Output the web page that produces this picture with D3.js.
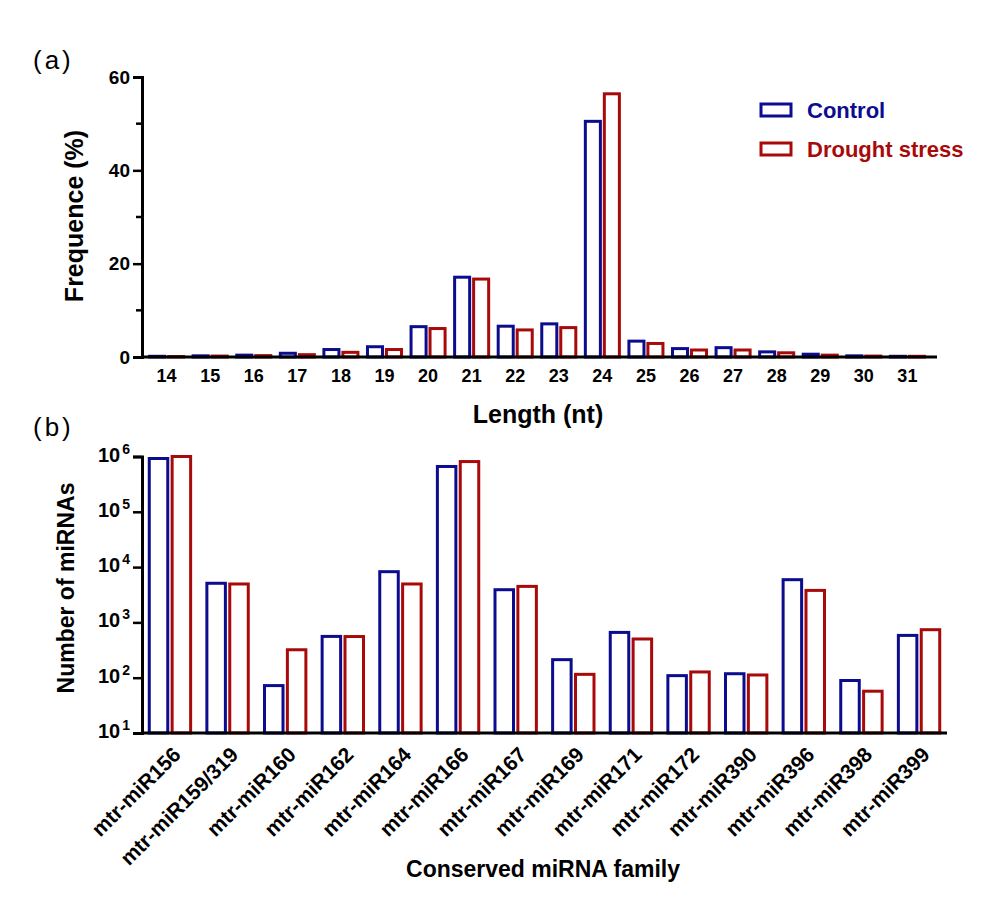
<!DOCTYPE html>
<html>
<head>
<meta charset="utf-8">
<script src="https://cdn.jsdelivr.net/npm/d3@7"></script>
<style>
  body { margin: 0; background: #fff; }
  svg text { font-family: "Liberation Sans", Arial, sans-serif; }
</style>
</head>
<body>
<div id="chart"></div>
<script>
// panel (a): length distribution
const lengths = [14, 15, 16, 17, 18, 19, 20, 21, 22, 23, 24, 25, 26, 27, 28, 29, 30, 31];
const lenControl = [0.15, 0.25, 0.4, 0.8, 1.6, 2.2, 6.5, 17.1, 6.6, 7.1, 50.5, 3.4, 1.8, 2.0, 1.1, 0.6, 0.25, 0.15];
const lenDrought = [0.1, 0.2, 0.3, 0.5, 1.0, 1.6, 6.1, 16.7, 5.8, 6.3, 56.4, 2.9, 1.5, 1.5, 0.9, 0.4, 0.2, 0.15];
const freqTicks = [0, 20, 40, 60];
const freqMinor = [10, 30, 50];

// panel (b): conserved miRNA families
const families = ["mtr-miR156", "mtr-miR159/319", "mtr-miR160", "mtr-miR162", "mtr-miR164", "mtr-miR166",
  "mtr-miR167", "mtr-miR169", "mtr-miR171", "mtr-miR172", "mtr-miR390", "mtr-miR396", "mtr-miR398", "mtr-miR399"];
const famControl = [920000, 5100, 72, 558, 8260, 660000, 3900, 212, 659, 109, 118, 5920, 89, 582];
const famDrought = [1000000, 4950, 320, 555, 4950, 810000, 4480, 115, 501, 127, 112, 3790, 57, 738];
const countTicks = [1, 2, 3, 4, 5, 6]; // exponents of 10

const seriesNames = ["Control", "Drought stress"];
const colors = ["#0c0c8e", "#a80a0a"];

const width = 1000, height = 917;
const svg = d3.select("#chart").append("svg")
  .attr("width", width).attr("height", height);

// ---------- panel (a) ----------
const xa = d3.scaleBand().domain(lengths).range([142, 932]).paddingInner(0.15).paddingOuter(0.14);
const xaIn = d3.scaleBand().domain([0, 1]).range([0, xa.bandwidth()]).paddingInner(0.05);
const ya = d3.scaleLinear().domain([0, 60]).range([357, 77]);

const ga = svg.append("g");
lengths.forEach((len, i) => {
  [lenControl[i], lenDrought[i]].forEach((v, s) => {
    ga.append("rect")
      .attr("x", xa(len) + xaIn(s) + 1.5)
      .attr("y", ya(v))
      .attr("width", xaIn.bandwidth() - 3)
      .attr("height", ya(0) - ya(v))
      .attr("fill", "white")
      .attr("stroke", colors[s])
      .attr("stroke-width", 3);
  });
});

// y axis (a)
const yAxisA = ga.append("g").attr("transform", "translate(142,0)")
  .call(d3.axisLeft(ya).tickValues(freqTicks).tickSize(9).tickPadding(3));
yAxisA.select(".domain").attr("stroke-width", 3);
yAxisA.selectAll(".tick line").attr("stroke-width", 2.5);
yAxisA.selectAll("text").attr("font-size", 19).attr("font-weight", "bold");
ga.selectAll(".minor").data(freqMinor).enter().append("line")
  .attr("x1", 142).attr("x2", 136)
  .attr("y1", d => ya(d)).attr("y2", d => ya(d))
  .attr("stroke", "black").attr("stroke-width", 2.5);

// x axis (a)
const xAxisA = ga.append("g").attr("transform", "translate(0,357)")
  .call(d3.axisBottom(xa).tickSize(0).tickPadding(12));
xAxisA.select(".domain").remove();
xAxisA.selectAll("text").attr("font-size", 18).attr("font-weight", "bold");
ga.append("line").attr("x1", 141).attr("x2", 937).attr("y1", 357).attr("y2", 357)
  .attr("stroke", "black").attr("stroke-width", 3);

ga.append("text").attr("x", 538).attr("y", 423)
  .attr("text-anchor", "middle").attr("font-size", 25).attr("font-weight", "bold")
  .text("Length (nt)");
ga.append("text").attr("transform", "translate(83,216) rotate(-90)")
  .attr("text-anchor", "middle").attr("font-size", 25).attr("font-weight", "bold")
  .text("Frequence (%)");
ga.append("text").attr("x", 33).attr("y", 69).attr("font-size", 26)
  .attr("letter-spacing", 3).text("(a)");

// legend
seriesNames.forEach((name, s) => {
  const ly = 110 + s * 39;
  ga.append("rect").attr("x", 761).attr("y", ly - 6).attr("width", 30).attr("height", 12)
    .attr("fill", "white").attr("stroke", colors[s]).attr("stroke-width", 3);
  ga.append("text").attr("x", 807).attr("y", ly + 8)
    .attr("font-size", 22).attr("font-weight", "bold").attr("fill", colors[s])
    .text(name);
});

// ---------- panel (b) ----------
const xb = d3.scaleBand().domain(families).range([142, 947]).paddingInner(0.23).paddingOuter(0.1);
const xbIn = d3.scaleBand().domain([0, 1]).range([0, xb.bandwidth()]).paddingInner(0.06);
const yb = d3.scaleLog().domain([10, 1e6]).range([733, 456.5]);

const gb = svg.append("g");
families.forEach((f, i) => {
  [famControl[i], famDrought[i]].forEach((v, s) => {
    gb.append("rect")
      .attr("x", xb(f) + xbIn(s) + 1.5)
      .attr("y", yb(v))
      .attr("width", xbIn.bandwidth() - 3)
      .attr("height", yb(10) - yb(v))
      .attr("fill", "white")
      .attr("stroke", colors[s])
      .attr("stroke-width", 3);
  });
});

// y axis (b)
const yAxisB = gb.append("g").attr("transform", "translate(142,0)")
  .call(d3.axisLeft(yb).tickValues(countTicks.map(e => Math.pow(10, e))).tickSize(9).tickPadding(3)
    .tickFormat(() => ""));
yAxisB.select(".domain").attr("stroke-width", 3);
yAxisB.selectAll(".tick line").attr("stroke-width", 2.5);
yAxisB.selectAll(".tick text").each(function(d) {
  const t = d3.select(this).text(null).attr("font-weight", "bold");
  t.append("tspan").attr("font-size", 20).text("10");
  t.append("tspan").attr("font-size", 14).attr("dx", 2).attr("dy", -8).text(Math.round(Math.log10(d)));
}).attr("dy", "0.45em");

// x axis (b)
const xAxisB = gb.append("g").attr("transform", "translate(0,733)")
  .call(d3.axisBottom(xb).tickSize(0).tickPadding(0));
xAxisB.select(".domain").remove();
xAxisB.selectAll("text")
  .attr("font-size", 21).attr("font-weight", "bold")
  .attr("text-anchor", "end").attr("dy", null).attr("y", 0)
  .attr("transform", "translate(12,23) rotate(-45)");
gb.append("line").attr("x1", 141).attr("x2", 947).attr("y1", 733).attr("y2", 733)
  .attr("stroke", "black").attr("stroke-width", 3);

gb.append("text").attr("x", 543).attr("y", 877)
  .attr("text-anchor", "middle").attr("font-size", 23).attr("font-weight", "bold")
  .text("Conserved miRNA family");
gb.append("text").attr("transform", "translate(74,588) rotate(-90)")
  .attr("text-anchor", "middle").attr("font-size", 23).attr("font-weight", "bold")
  .text("Number of miRNAs");
gb.append("text").attr("x", 33).attr("y", 436).attr("font-size", 26)
  .attr("letter-spacing", 3).text("(b)");
</script>
</body>
</html>
